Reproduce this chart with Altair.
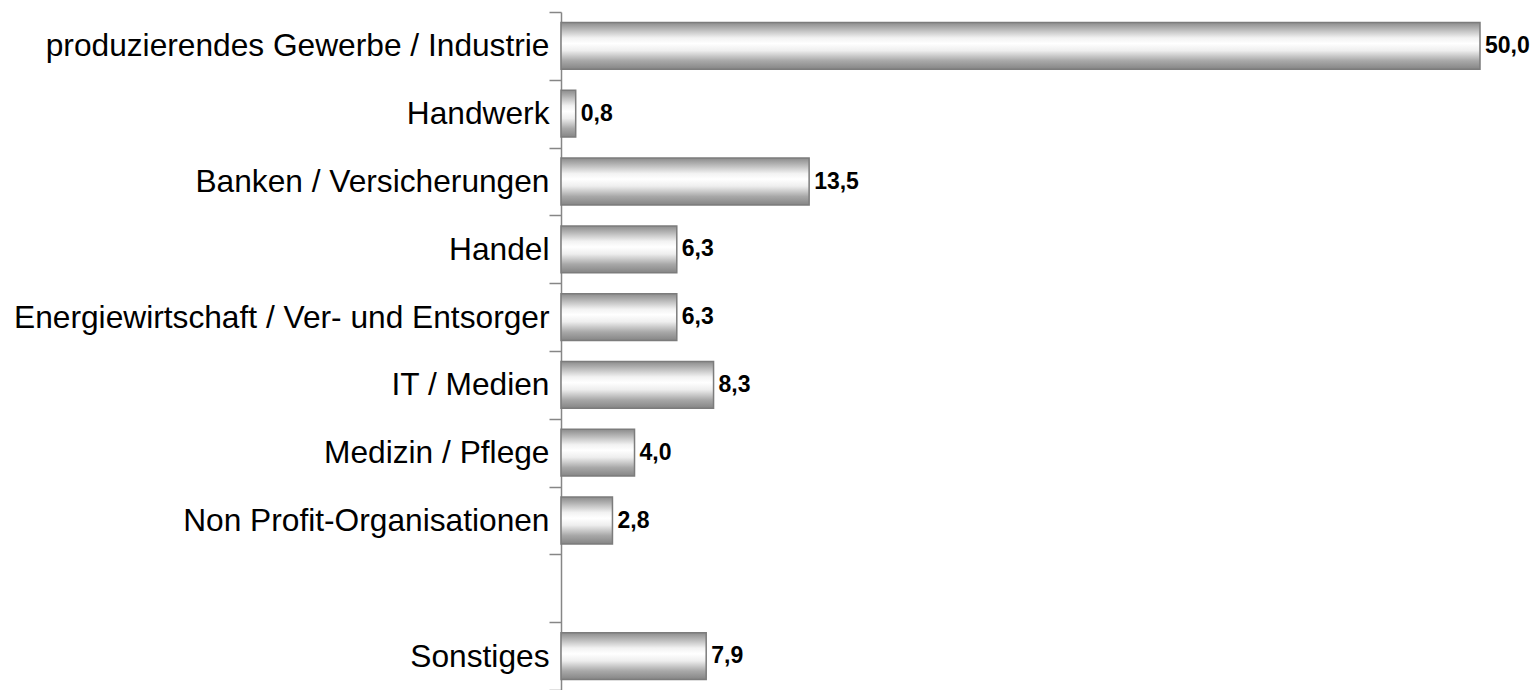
import altair as alt
import pandas as pd

categories = [
    "produzierendes Gewerbe / Industrie",
    "Handwerk",
    "Banken / Versicherungen",
    "Handel",
    "Energiewirtschaft / Ver- und Entsorger",
    "IT / Medien",
    "Medizin / Pflege",
    "Non Profit-Organisationen",
    "Sonstiges",
]
values = [50.0, 0.8, 13.5, 6.3, 6.3, 8.3, 4.0, 2.8, 7.9]

# axis slots (an empty slot separates "Sonstiges")
slots = categories[:8] + [" "] + categories[8:]

df = pd.DataFrame({"kategorie": categories, "wert": values})

FONT = "Liberation Sans"

y_enc = alt.Y(
    "kategorie:N",
    scale=alt.Scale(domain=slots, paddingInner=0, paddingOuter=0),
    axis=alt.Axis(
        title=None,
        tickBand="extent",
        tickSize=12,
        tickColor="#868686",
        tickWidth=1.5,
        domainColor="#868686",
        domainWidth=1.5,
        labelFont=FONT,
        labelFontSize=31.7,
        labelColor="#000000",
        labelPadding=0,
        labelLimit=700,
    ),
)
x_enc = alt.X("wert:Q", scale=alt.Scale(domain=[0, 50]), axis=None)

grad = alt.Gradient(
    gradient="linear",
    stops=[
        alt.GradientStop(color="#8c8c8c", offset=0.0),
        alt.GradientStop(color="#b0b0b0", offset=0.12),
        alt.GradientStop(color="#f2f2f2", offset=0.33),
        alt.GradientStop(color="#ffffff", offset=0.45),
        alt.GradientStop(color="#eeeeee", offset=0.6),
        alt.GradientStop(color="#a8a8a8", offset=0.82),
        alt.GradientStop(color="#858585", offset=1.0),
    ],
    x1=0, x2=0, y1=0, y2=1,
)

bars = alt.Chart(df).mark_bar(
    fill=grad, stroke="#7c7c7c", strokeWidth=1.5,
    height=alt.RelativeBandSize(band=0.69),
).encode(y=y_enc, x=x_enc)

labels = alt.Chart(df).transform_calculate(
    txt="replace(format(datum.wert, '.1f'), '.', ',')"
).mark_text(
    align="left", baseline="middle", dx=5, font=FONT, fontSize=23,
    fontWeight="bold", color="#000000"
).encode(y=y_enc, x=x_enc, text="txt:N")

chart = alt.layer(bars, labels).properties(
    width=919,
    height=678,
    autosize=alt.AutoSizeParams(type="none"),
    padding={"left": 553, "top": 4, "right": 50, "bottom": 0},
).configure_view(stroke=None)

chart.save("out.html", embed_options={"renderer": "svg", "actions": False})
